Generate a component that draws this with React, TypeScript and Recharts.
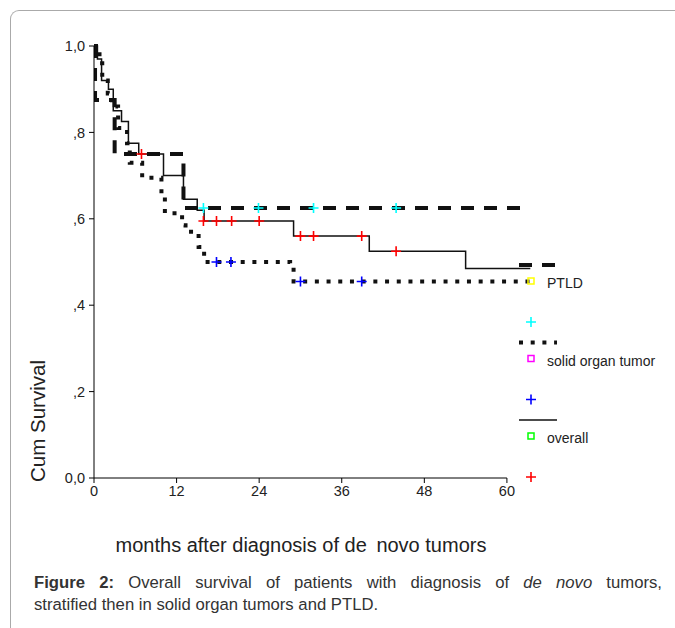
import React from "react";
import {
  ComposedChart,
  Line,
  Scatter,
  XAxis,
  YAxis,
  ReferenceLine,
} from "recharts";

// Kaplan-Meier steps: months, cumulative survival
const overallSteps = [
  { t: 0, s: 1 },
  { t: 0.5, s: 0.97 },
  { t: 1.1, s: 0.92 },
  { t: 2.1, s: 0.9 },
  { t: 2.8, s: 0.85 },
  { t: 4, s: 0.825 },
  { t: 5, s: 0.775 },
  { t: 6.5, s: 0.75 },
  { t: 10.1, s: 0.7 },
  { t: 13, s: 0.645 },
  { t: 15, s: 0.62 },
  { t: 16, s: 0.595 },
  { t: 29, s: 0.56 },
  { t: 40, s: 0.525 },
  { t: 54, s: 0.485 },
  { t: 63.4, s: 0.485 },
];

const ptldSteps = [
  { t: 0, s: 1 },
  { t: 0.15, s: 0.875 },
  { t: 3, s: 0.75 },
  { t: 13, s: 0.625 },
  { t: 62.3, s: 0.625 },
];

const solidSteps = [
  { t: 0, s: 1 },
  { t: 0.8, s: 0.96 },
  { t: 1.2, s: 0.92 },
  { t: 2, s: 0.89 },
  { t: 2.6, s: 0.86 },
  { t: 3.5, s: 0.81 },
  { t: 4.8, s: 0.775 },
  { t: 5.2, s: 0.73 },
  { t: 7, s: 0.695 },
  { t: 9.8, s: 0.65 },
  { t: 10.3, s: 0.613 },
  { t: 12.8, s: 0.585 },
  { t: 13.3, s: 0.57 },
  { t: 15.2, s: 0.535 },
  { t: 16, s: 0.5 },
  { t: 28.5, s: 0.49 },
  { t: 29, s: 0.455 },
  { t: 63.4, s: 0.455 },
];

// censored observations
const overallCensored = [
  { t: 6.9, s: 0.75 },
  { t: 15.9, s: 0.595 },
  { t: 17.8, s: 0.595 },
  { t: 20, s: 0.595 },
  { t: 24, s: 0.595 },
  { t: 30, s: 0.56 },
  { t: 31.9, s: 0.56 },
  { t: 38.9, s: 0.56 },
  { t: 43.9, s: 0.525 },
];

const ptldCensored = [
  { t: 15.9, s: 0.625 },
  { t: 23.9, s: 0.625 },
  { t: 31.9, s: 0.625 },
  { t: 43.9, s: 0.625 },
];

const solidCensored = [
  { t: 17.8, s: 0.5 },
  { t: 19.9, s: 0.5 },
  { t: 30, s: 0.455 },
  { t: 38.9, s: 0.455 },
];

const xTicks = [0, 12, 24, 36, 48, 60];
const yTicks = [0, 0.2, 0.4, 0.6, 0.8, 1];

const legendItems = [
  { name: "PTLD", dash: "13 10", width: 4, box: "#ffff00", cross: "#00ffff" },
  { name: "solid organ tumor", dash: "4 7.7", width: 4, box: "#ff00ff", cross: "#0000ff" },
  { name: "overall", dash: undefined, width: 1.5, box: "#00ff00", cross: "#ff0000" },
];

const FONT = "'Liberation Sans', Arial, sans-serif";

const yLabel = (v: number) => {
  if (v === 0) return "0,0";
  if (v === 1) return "1,0";
  return "," + Math.round(v * 10);
};

const plusShape = (color: string) => (props: any) => {
  const { cx, cy } = props;
  if (cx == null || cy == null) return <g />;
  return (
    <path
      d={`M${cx - 5},${cy} H${cx + 5} M${cx},${cy - 5} V${cy + 5}`}
      stroke={color}
      strokeWidth={1.6}
      fill="none"
    />
  );
};

const SurvivalLegend = () => (
  <svg
    width={160}
    height={240}
    style={{ position: "absolute", left: 510, top: 250, overflow: "visible" }}
  >
    {legendItems.map((item, i) => {
      const y0 = 15 + i * 77.5;
      return (
        <g key={item.name}>
          <line
            x1={9}
            x2={47}
            y1={y0}
            y2={y0}
            stroke="#111"
            strokeWidth={item.width}
            strokeDasharray={item.dash}
          />
          <rect
            x={18}
            y={y0 + 13}
            width={6}
            height={6}
            fill="none"
            stroke={item.box}
            strokeWidth={1.5}
          />
          <text
            x={37}
            y={y0 + 23}
            fontFamily={FONT}
            fontSize={14}
            fill="#222"
          >
            {item.name}
          </text>
          <path
            d={`M${16},${y0 + 57} H${26} M${21},${y0 + 52} V${y0 + 62}`}
            stroke={item.cross}
            strokeWidth={1.6}
          />
        </g>
      );
    })}
  </svg>
);

export default function App() {
  return (
    <div
      style={{
        position: "absolute",
        left: 0,
        top: 0,
        width: 675,
        height: 628,
        overflow: "hidden",
        background: "#fff",
        fontFamily: FONT,
      }}
    >
      <div
        style={{
          position: "absolute",
          left: 10,
          top: 10,
          width: 700,
          height: 700,
          borderLeft: "1px solid #aaa",
          borderTop: "1px solid #aaa",
          borderTopLeftRadius: 9,
        }}
      />
      <div style={{ position: "absolute", left: 0, top: 0 }}>
        <ComposedChart
          width={675}
          height={628}
          margin={{ top: 46, right: 144, bottom: 120, left: 34 }}
        >
          <XAxis
            dataKey="t"
            type="number"
            domain={[0, 63.5]}
            ticks={xTicks}
            allowDataOverflow
            axisLine={false}
            tickLine={{ stroke: "#000" }}
            tickSize={5}
            tickMargin={3}
            height={30}
            tick={{ fontFamily: FONT, fontSize: 14.5, fill: "#222" }}
          />
          <YAxis
            dataKey="s"
            type="number"
            domain={[0, 1]}
            ticks={yTicks}
            width={60}
            axisLine={{ stroke: "#000" }}
            tickLine={{ stroke: "#000" }}
            tickSize={5}
            tickMargin={4}
            tickFormatter={yLabel}
            tick={{ fontFamily: FONT, fontSize: 14.5, fill: "#222" }}
          />
          <ReferenceLine
            segment={[
              { x: 0, y: 0 },
              { x: 60, y: 0 },
            ]}
            stroke="#000"
            strokeWidth={1}
          />
          <Line
            data={ptldSteps}
            dataKey="s"
            type="stepAfter"
            stroke="#111"
            strokeWidth={4}
            strokeDasharray="13 10"
            dot={false}
            isAnimationActive={false}
          />
          <Line
            data={solidSteps}
            dataKey="s"
            type="stepAfter"
            stroke="#111"
            strokeWidth={4}
            strokeDasharray="4 7.7"
            dot={false}
            isAnimationActive={false}
          />
          <Line
            data={overallSteps}
            dataKey="s"
            type="stepAfter"
            stroke="#111"
            strokeWidth={1.5}
            dot={false}
            isAnimationActive={false}
          />
          <Scatter
            data={ptldCensored}
            dataKey="s"
            shape={plusShape("#00ffff")}
            isAnimationActive={false}
          />
          <Scatter
            data={solidCensored}
            dataKey="s"
            shape={plusShape("#0000ff")}
            isAnimationActive={false}
          />
          <Scatter
            data={overallCensored}
            dataKey="s"
            shape={plusShape("#ff0000")}
            isAnimationActive={false}
          />
        </ComposedChart>
      </div>
      <SurvivalLegend />
      <div
        style={{
          position: "absolute",
          left: 38,
          top: 421,
          transform: "translate(-50%, -50%) rotate(-90deg)",
          fontSize: 20.5,
          color: "#222",
          whiteSpace: "nowrap",
        }}
      >
        Cum Survival
      </div>
      <div
        style={{
          position: "absolute",
          left: 0,
          top: 534,
          width: 602,
          textAlign: "center",
          fontSize: 20,
          color: "#222",
          whiteSpace: "pre",
        }}
      >
        months after diagnosis of de{"\u2009 "}novo tumors
      </div>
      <div
        style={{
          position: "absolute",
          left: 34,
          top: 572,
          width: 628,
          fontSize: 16.7,
          lineHeight: "22px",
          color: "#333",
        }}
      >
        <div style={{ textAlign: "justify", textAlignLast: "justify" }}>
          <b>Figure 2:</b> Overall survival of patients with diagnosis of{" "}
          <i>de novo</i> tumors,
        </div>
        <div>stratified then in solid organ tumors and PTLD.</div>
      </div>
    </div>
  );
}
